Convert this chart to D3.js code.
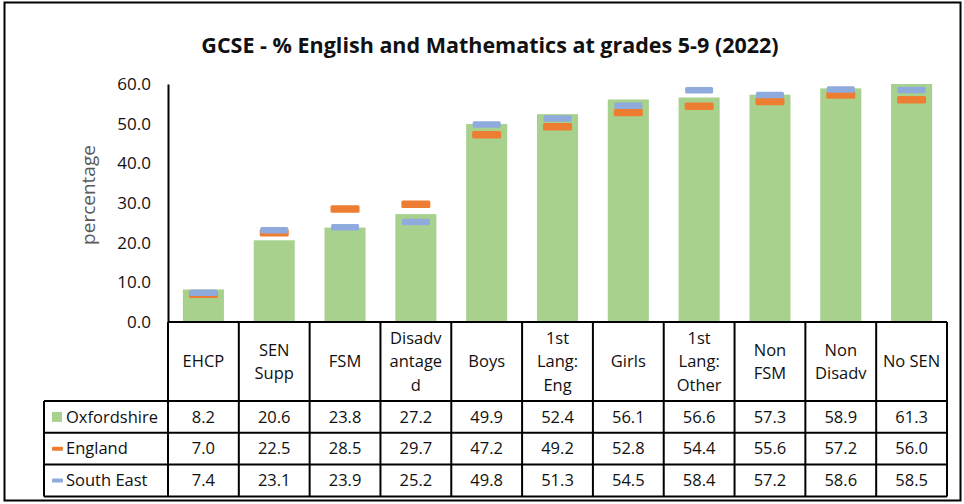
<!DOCTYPE html>
<html>
<head>
<meta charset="utf-8">
<script src="https://cdn.jsdelivr.net/npm/d3@7"></script>
<style>
  body { margin: 0; background: #fff; }
  svg text { font-family: "Open Sans", "Noto Sans", sans-serif; }
</style>
</head>
<body>
<div id="chart"></div>
<script>
// categories and values
var categories = ["EHCP", "SEN Supp", "FSM", "Disadvantaged", "Boys", "1st Lang: Eng",
                  "Girls", "1st Lang: Other", "Non FSM", "Non Disadv", "No SEN"];
// header labels as wrapped in the table
var headerLines = [["EHCP"], ["SEN", "Supp"], ["FSM"], ["Disadv", "antage", "d"], ["Boys"],
                   ["1st", "Lang:", "Eng"], ["Girls"], ["1st", "Lang:", "Other"],
                   ["Non", "FSM"], ["Non", "Disadv"], ["No SEN"]];
var oxfordshire = [8.2, 20.6, 23.8, 27.2, 49.9, 52.4, 56.1, 56.6, 57.3, 58.9, 61.3];
var england     = [7.0, 22.5, 28.5, 29.7, 47.2, 49.2, 52.8, 54.4, 55.6, 57.2, 56.0];
var southEast   = [7.4, 23.1, 23.9, 25.2, 49.8, 51.3, 54.5, 58.4, 57.2, 58.6, 58.5];
var yTicks = [0, 10, 20, 30, 40, 50, 60];

var series = [
    {name: "Oxfordshire", values: oxfordshire, color: "#A9D18E", type: "bar"},
    {name: "England", values: england, color: "#ED7D31", type: "dash"},
    {name: "South East", values: southEast, color: "#8FAADC", type: "dash"}
];

var W = 964, H = 504;
var plotLeft = 168, plotRight = 947, plotTop = 84, plotBottom = 322;
var headerBottom = 401, rowH = 31.8, legendLeft = 44;

var svg = d3.select("#chart").append("svg")
    .attr("width", W).attr("height", H);

// outer frame
svg.append("rect")
    .attr("x", 4.5).attr("y", 2.5).attr("width", 956).attr("height", 498)
    .attr("fill", "#fff").attr("stroke", "#000").attr("stroke-width", 2);

// title
svg.append("text")
    .attr("x", 490).attr("y", 53)
    .attr("text-anchor", "middle")
    .style("font-size", "21.5px").style("font-weight", "bold").attr("fill", "#111")
    .text("GCSE - % English and Mathematics at grades 5-9 (2022)");

var xScale = d3.scaleBand().domain(categories).range([plotLeft, plotRight]);
var yScale = d3.scaleLinear().domain([0, 60]).range([plotBottom, plotTop]);

// clip so the tallest bar stops at the axis max
svg.append("clipPath").attr("id", "plotClip")
    .append("rect").attr("x", plotLeft).attr("y", plotTop)
    .attr("width", plotRight - plotLeft).attr("height", plotBottom - plotTop);

var plot = svg.append("g").attr("clip-path", "url(#plotClip)");
var barW = xScale.bandwidth() * 0.58;

// bars
plot.selectAll(".bar")
    .data(oxfordshire)
    .enter().append("rect")
    .attr("class", "bar")
    .attr("x", function(d, i) { return xScale(categories[i]) + (xScale.bandwidth() - barW) / 2; })
    .attr("y", function(d) { return yScale(d); })
    .attr("width", barW)
    .attr("height", function(d) { return plotBottom - yScale(d); })
    .attr("fill", "#A9D18E");

// dash markers
function drawDashes(values, color, w, h) {
    plot.selectAll(null)
        .data(values)
        .enter().append("rect")
        .attr("x", function(d, i) { return xScale(categories[i]) + xScale.bandwidth() / 2 - w / 2; })
        .attr("y", function(d) { return yScale(d) - h / 2; })
        .attr("width", w).attr("height", h)
        .attr("rx", 1.5)
        .attr("fill", color);
}
drawDashes(england, "#ED7D31", 29, 7.5);
drawDashes(southEast, "#8FAADC", 28, 6.5);

// y axis
var yAxis = d3.axisLeft(yScale).tickValues(yTicks).tickSize(0).tickPadding(17)
    .tickFormat(d3.format(".1f"));
var yG = svg.append("g")
    .attr("transform", "translate(" + plotLeft + ",0)")
    .call(yAxis);
yG.select(".domain").attr("stroke", "#000").attr("stroke-width", 2);
yG.selectAll("text").style("font-size", "17px").attr("fill", "#111")
    .style("font-family", "'Open Sans', 'Noto Sans', sans-serif");

// y axis title
svg.append("text")
    .attr("transform", "translate(95," + ((plotTop + plotBottom) / 2 - 8) + ") rotate(-90)")
    .attr("text-anchor", "middle")
    .style("font-size", "19px").attr("fill", "#595959")
    .text("percentage");

// data table
var table = svg.append("g");
var lineStyle = function(sel) { return sel.attr("stroke", "#000").attr("stroke-width", 2); };

// horizontal lines
var tableBottom = headerBottom + rowH * 3;
table.append("line").attr("x1", plotLeft).attr("x2", plotRight)
    .attr("y1", plotBottom).attr("y2", plotBottom).call(lineStyle);
[0, 1, 2, 3].forEach(function(r) {
    var y = headerBottom + r * rowH;
    table.append("line").attr("x1", legendLeft).attr("x2", plotRight)
        .attr("y1", y).attr("y2", y).call(lineStyle);
});

// vertical lines
table.append("line").attr("x1", legendLeft).attr("x2", legendLeft)
    .attr("y1", headerBottom).attr("y2", tableBottom).call(lineStyle);
categories.forEach(function(c) {
    var x = xScale(c);
    table.append("line").attr("x1", x).attr("x2", x)
        .attr("y1", plotBottom).attr("y2", tableBottom).call(lineStyle);
});
table.append("line").attr("x1", plotRight).attr("x2", plotRight)
    .attr("y1", plotBottom).attr("y2", tableBottom).call(lineStyle);

// header labels
var lineGap = 23.5;
categories.forEach(function(c, i) {
    var lines = headerLines[i];
    var cy = (plotBottom + headerBottom) / 2;
    var y0 = cy - (lines.length - 1) * lineGap / 2;
    var t = table.append("text")
        .attr("text-anchor", "middle")
        .style("font-size", "16.5px").attr("fill", "#111");
    lines.forEach(function(l, j) {
        t.append("tspan")
            .attr("x", xScale(c) + xScale.bandwidth() / 2)
            .attr("y", y0 + j * lineGap)
            .attr("dy", "0.35em")
            .text(l);
    });
});

// data rows
series.forEach(function(s, r) {
    var cy = headerBottom + r * rowH + rowH / 2;
    s.values.forEach(function(v, i) {
        table.append("text")
            .attr("x", xScale(categories[i]) + xScale.bandwidth() / 2)
            .attr("y", cy).attr("dy", "0.35em")
            .attr("text-anchor", "middle")
            .style("font-size", "16.5px").attr("fill", "#111")
            .text(d3.format(".1f")(v));
    });
    // legend key
    if (s.type === "bar") {
        table.append("rect").attr("x", 52).attr("y", cy - 5)
            .attr("width", 10).attr("height", 10).attr("fill", s.color);
    } else {
        table.append("rect").attr("x", 52).attr("y", cy - 2)
            .attr("width", 11).attr("height", 4).attr("rx", 1).attr("fill", s.color);
    }
    table.append("text")
        .attr("x", 66).attr("y", cy).attr("dy", "0.35em")
        .style("font-size", "16.5px").attr("fill", "#111")
        .text(s.name);
});
</script>
</body>
</html>
